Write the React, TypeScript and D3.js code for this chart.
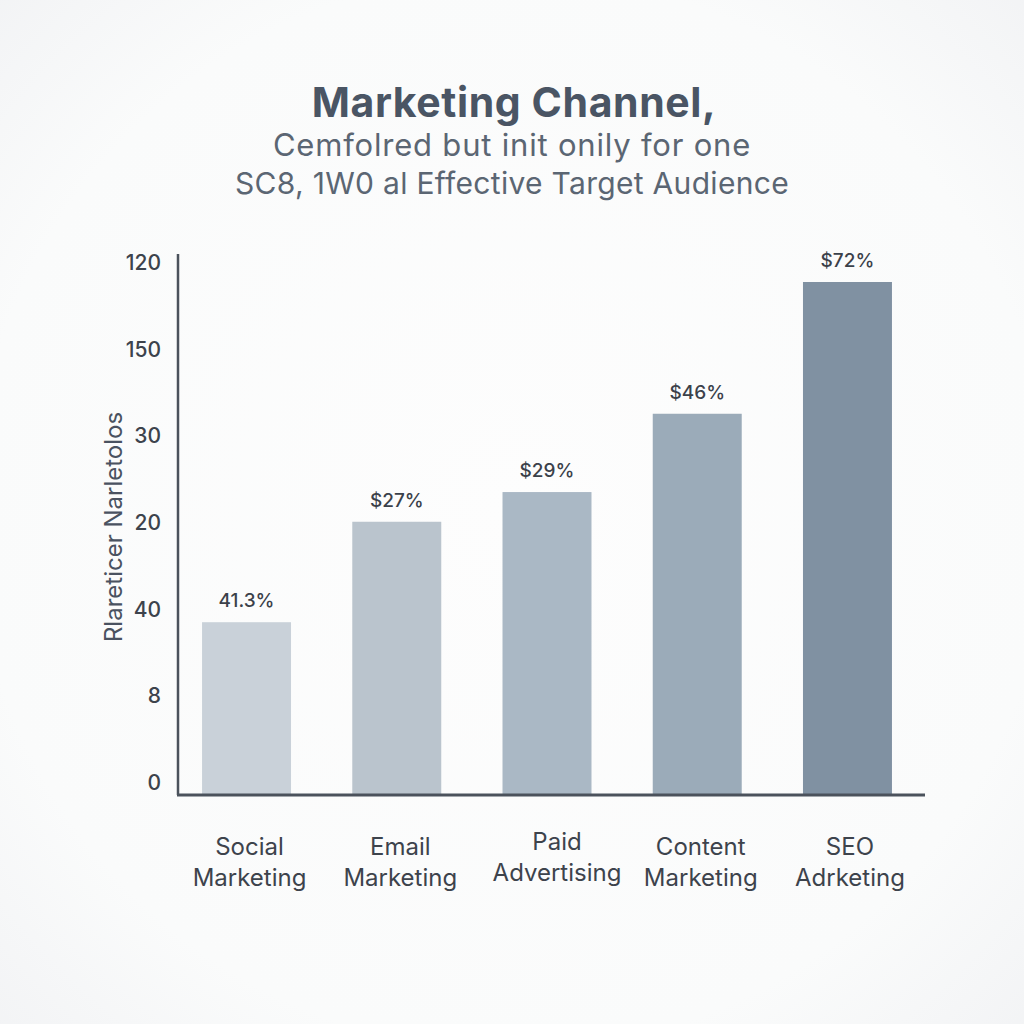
import React from "react";
import * as d3 from "d3";

const categories: string[][] = [
  ["Social", "Marketing"],
  ["Email", "Marketing"],
  ["Paid", "Advertising"],
  ["Content", "Marketing"],
  ["SEO", "Adrketing"],
];
const values = [32.0, 50.6, 56.1, 70.6, 95.0];
const valueLabels = ["41.3%", "$27%", "$29%", "$46%", "$72%"];
const barColors = ["#c9d1d9", "#bac4cd", "#aab8c5", "#9babb9", "#8091a2"];
const tickLabels = ["0", "8", "40", "20", "30", "150", "120"];
const titleLines = [
  "Marketing Channel,",
  "Cemfolred but init onily for one",
  "SC8, 1W0 al Effective Target Audience",
];
const yAxisTitle = "Rlareticer Narletolos";

export default function App() {
  const W = 1024;
  const H = 1024;
  const left = 178;
  const right = 925;
  const base = 795;
  const top = 254;

  const x = d3
    .scaleBand<number>()
    .domain(d3.range(categories.length))
    .range([172, 922])
    .paddingInner(0.4077)
    .paddingOuter(0.2);
  const y = d3.scaleLinear().domain([0, 100]).range([base, 255]);
  const tickY = d3.scalePoint<string>().domain(tickLabels.map((t, i) => i + "")).range([783, 263]);

  const font = "'Inter', 'Open Sans', 'Noto Sans', sans-serif";
  const labelDy = [0, 0, -5, 0, 0];
  const labelDx = [3, 3.5, 10, 3.5, 2.5];

  return (
    <svg width={W} height={H} style={{ display: "block", position: "absolute", left: 0, top: 0 }} fontFamily={font}>
      <defs>
        <radialGradient id="bg" cx="50%" cy="50%" r="75%">
          <stop offset="0%" stopColor="#fdfdfd" />
          <stop offset="70%" stopColor="#fafbfb" />
          <stop offset="100%" stopColor="#f1f2f4" />
        </radialGradient>
      </defs>
      <rect x={0} y={0} width={W} height={H} fill="url(#bg)" />

      <text x={514} y={117} textAnchor="middle" fontSize={41} fontWeight={700} fill="#4a5564" letterSpacing={0.6}>
        {titleLines[0]}
      </text>
      <text x={512} y={156} textAnchor="middle" fontSize={31} fill="#5b6673" letterSpacing={0.8}>
        {titleLines[1]}
      </text>
      <text x={512} y={194} textAnchor="middle" fontSize={30} fill="#5b6673" letterSpacing={0.3}>
        {titleLines[2]}
      </text>

      {values.map((v, i) => (
        <rect key={i} x={x(i)} y={y(v)} width={x.bandwidth()} height={base - y(v)} fill={barColors[i]} />
      ))}

      {values.map((v, i) => (
        <text
          key={"l" + i}
          x={(x(i) as number) + x.bandwidth() / 2}
          y={y(v) - 15}
          textAnchor="middle"
          fontSize={19}
          fontWeight={500}
          fill="#3b414a"
        >
          {valueLabels[i]}
        </text>
      ))}

      <line x1={left} x2={left} y1={top} y2={base} stroke="#4b525c" strokeWidth={2.5} />
      <line x1={left - 1} x2={right} y1={base} y2={base} stroke="#4b525c" strokeWidth={3} />

      {tickLabels.map((t, i) => (
        <text key={"t" + i} x={161} y={(tickY(i + "") as number) + 7} textAnchor="end" fontSize={21} fontWeight={500} fill="#3d434c">
          {t}
        </text>
      ))}

      <text
        transform={`translate(122,527) rotate(-90)`}
        textAnchor="middle"
        fontSize={24}
        fill="#4a5260"
      >
        {yAxisTitle}
      </text>

      {categories.map((c, i) => {
        const cx = (x(i) as number) + x.bandwidth() / 2 + labelDx[i];
        return (
          <text key={"c" + i} textAnchor="middle" fontSize={24} fill="#3d434c">
            <tspan x={cx} y={855 + labelDy[i]}>{c[0]}</tspan>
            <tspan x={cx} y={886 + labelDy[i]}>{c[1]}</tspan>
          </text>
        );
      })}
    </svg>
  );
}
